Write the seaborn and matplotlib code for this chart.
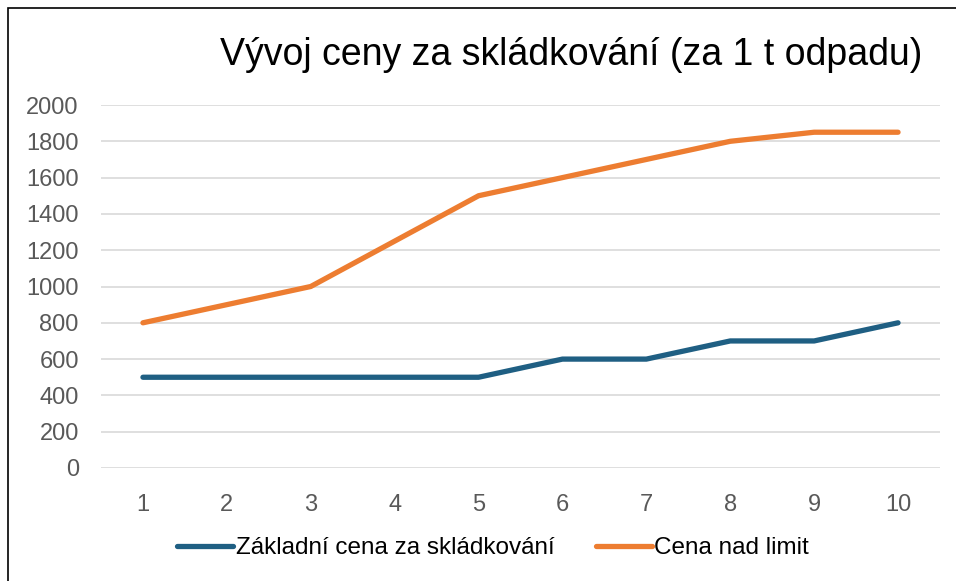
import matplotlib
matplotlib.use("Agg")
import matplotlib.pyplot as plt
import seaborn as sns
import pandas as pd
from matplotlib.patches import Rectangle
from matplotlib.lines import Line2D

x_labels = [1, 2, 3, 4, 5, 6, 7, 8, 9, 10]
zakladni = [500, 500, 500, 500, 500, 600, 600, 700, 700, 800]
nad_limit = [800, 900, 1000, 1250, 1500, 1600, 1700, 1800, 1850, 1850]
series_names = ["Základní cena za skládkování", "Cena nad limit"]
title = "Vývoj ceny za skládkování (za 1 t odpadu)"

df = pd.DataFrame({
    "x": x_labels * 2,
    "value": zakladni + nad_limit,
    "series": [series_names[0]] * len(x_labels) + [series_names[1]] * len(x_labels),
})

sns.set_style("white")
plt.rcParams['font.family'] = ['Liberation Sans', 'DejaVu Sans']

W, H = 956, 581
fig = plt.figure(figsize=(W / 100, H / 100), dpi=100)
ax = fig.add_axes([101 / W, 1 - 468 / H, (940 - 101) / W, (468 - 105) / H])

palette = {series_names[0]: "#1F5F83", series_names[1]: "#ED7D31"}
lw = 3.8
sns.lineplot(data=df, x="x", y="value", hue="series", palette=palette,
             linewidth=lw, ax=ax, legend=False, solid_capstyle="round")

ax.set_xlim(0.5, 10.5)
ax.set_ylim(0, 2000)
ax.set_yticks(range(0, 2001, 200))
ax.set_xticks(x_labels)
ax.set_xticklabels([str(v) for v in x_labels])
ax.yaxis.grid(True, color="#D9D9D9", linewidth=1.2)
ax.set_axisbelow(True)
for s in ax.spines.values():
    s.set_visible(False)
ax.tick_params(axis="both", length=0, labelsize=17, colors="#595959")
ax.tick_params(axis="y", pad=16)
ax.tick_params(axis="x", pad=19)
ax.set_xlabel("")
ax.set_ylabel("")

fig.text(571 / W, 1 - 55 / H, title, ha="center", va="center", fontsize=27, color="black")

handles = [Line2D([0], [0], color=palette[n], linewidth=lw, solid_capstyle="round") for n in series_names]
fig.legend(handles, series_names, loc="center", bbox_to_anchor=(493 / W, 1 - 548 / H),
           ncol=2, frameon=False, fontsize=17.5, handlelength=2.3, handletextpad=0.12,
           columnspacing=1.7, labelcolor="black")

fig.add_artist(Rectangle((8 / W, -0.1), 1.2, 1 - 8 / H + 0.1, transform=fig.transFigure,
                         fill=False, edgecolor="black", linewidth=1.2))

fig.savefig("out.png", dpi=100)
